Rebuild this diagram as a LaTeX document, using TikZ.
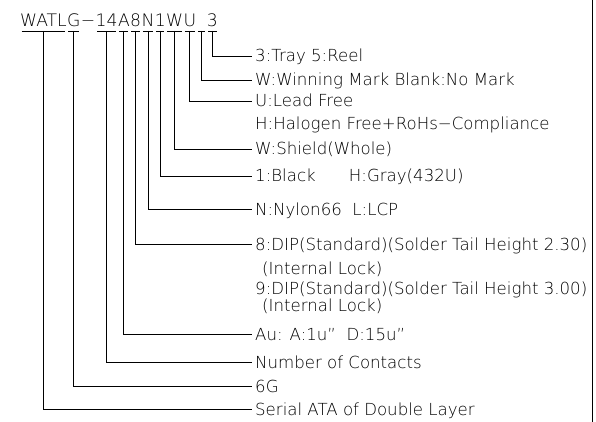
\documentclass[tikz,border=0pt]{standalone}
\usepackage{fontspec}
\setmainfont{DejaVu Sans ExtraLight}
\usetikzlibrary{positioning}

\begin{document}
\begin{tikzpicture}[x=1pt, y=-1pt,
        code/.style={inner xsep=0pt, inner ysep=4pt, text height=13pt, text depth=0pt, font=\fontsize{17.2}{20}\selectfont},
        desc/.style={anchor=west, inner xsep=3pt, inner ysep=0pt, text height=12pt, text depth=0pt, font=\fontsize{16.6}{19}\selectfont},
        lead/.style={line width=0.8pt},
        uline/.style={line width=0.8pt, shorten <=1.5pt, shorten >=1.5pt}
    ]
    \useasboundingbox (0,0) rectangle (596,422);

    % Part number, one node for each code field
    \node[code, anchor=south west] (cWATL) at (20,31) {WATL};
    \node[code, right=0pt of cWATL] (cG) {G};
    \node[code, right=0pt of cG] (cdash) {−};
    \node[code, right=0pt of cdash] (c14) {14};
    \node[code, right=0pt of c14] (cA) {A};
    \node[code, right=0pt of cA] (c8) {8};
    \node[code, right=0pt of c8] (cN) {N};
    \node[code, right=0pt of cN] (c1) {1};
    \node[code, right=0pt of c1] (cW) {W};
    \node[code, right=0pt of cW] (cU) {U};
    \node[code, right=0pt of cU, minimum width=10pt] (cblank) {};
    \node[code, right=0pt of cblank] (c3) {3};

    % underlines of the fields
    \foreach \f in {cWATL,cG,c14,cA,c8,cN,c1,cW,cU,cblank,c3}
        \draw[uline] (\f.south west) -- (\f.south east);

    % Descriptions
    \node[desc] (tray) at (252,56) {3:Tray 5:Reel};
    \node[desc] (mark) at (252,80) {W:Winning Mark Blank:No Mark};
    \node[desc] (leadfree) at (252,101) {U:Lead Free};
    \node[desc] (halogen) at (252,124) {H:Halogen Free+RoHs−Compliance};
    \node[desc] (shield) at (252,149) {W:Shield(Whole)};
    \node[desc] (color) at (252,176) {1:Black\hspace{2em}H:Gray(432U)};
    \node[desc] (nylon) at (252,209) {N:Nylon66\ \ L:LCP};
    \node[desc] (dip8) at (252,244) {8:DIP(Standard)(Solder Tail Height 2.30)};
    \node[desc] (lock8) at (259,268) {(Internal Lock)};
    \node[desc] (dip9) at (252,288) {9:DIP(Standard)(Solder Tail Height 3.00)};
    \node[desc] (lock9) at (259,305) {(Internal Lock)};
    \node[desc] (gold) at (252,334) {Au: A:1u”\ \ D:15u”};
    \node[desc] (contacts) at (252,362) {Number of Contacts};
    \node[desc] (sixg) at (252,386) {6G};
    \node[desc] (serial) at (252,409) {Serial ATA of Double Layer};

    % Leaders from the fields to the descriptions
    \draw[lead] (c3.south) |- (tray);
    \draw[lead] (cblank.south) |- (mark);
    \draw[lead] (cU.south) |- (leadfree);
    \draw[lead] (cW.south) |- (shield);
    \draw[lead] (c1.south) |- (color);
    \draw[lead] (cN.south) |- (nylon);
    \draw[lead] (c8.south) |- (dip8);
    \draw[lead] (cA.south) |- (gold);
    \draw[lead] (c14.south) |- (contacts);
    \draw[lead] (cG.south) |- (sixg);
    \draw[lead] (cWATL.south) |- (serial);

    % frame edge
    \draw[line width=1pt] (592,0) -- (592,422);

    \end{tikzpicture}
\end{document}
